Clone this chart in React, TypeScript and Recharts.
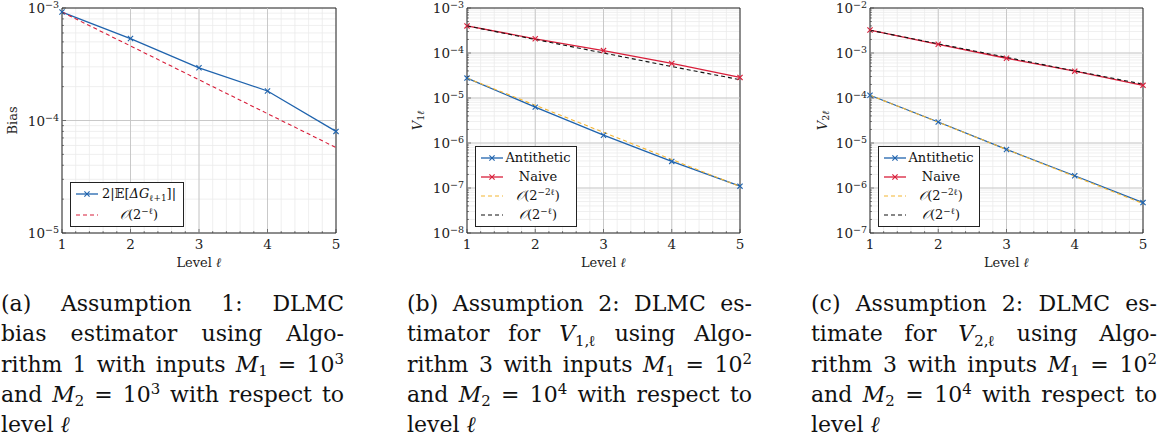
import React from 'react';
import {
  LineChart,
  Line,
  XAxis,
  YAxis,
  CartesianGrid,
  ReferenceLine,
  ReferenceArea,
  Legend,
} from 'recharts';

// levels on the x axis
const LEVELS = [1, 2, 3, 4, 5];

// (a) bias
const A_BIAS = [9.2e-4, 5.35e-4, 2.94e-4, 1.83e-4, 8.0e-5];
const A_REF = [9.2e-4, 4.6e-4, 2.3e-4, 1.15e-4, 5.75e-5];

// (b) V_1
const B_ANTI = [2.77e-5, 6.27e-6, 1.49e-6, 3.9e-7, 1.1e-7];
const B_NAIVE = [4.0e-4, 2.07e-4, 1.13e-4, 5.85e-5, 2.87e-5];
const B_REF2 = [2.77e-5, 6.9e-6, 1.73e-6, 4.3e-7, 1.08e-7];
const B_REF1 = [4.0e-4, 2.0e-4, 1.0e-4, 5.0e-5, 2.55e-5];

// (c) V_2
const C_ANTI = [1.15e-4, 2.93e-5, 7.2e-6, 1.87e-6, 4.74e-7];
const C_NAIVE = [3.23e-3, 1.56e-3, 7.64e-4, 3.95e-4, 1.91e-4];
const C_REF2 = [1.15e-4, 2.9e-5, 7.2e-6, 1.8e-6, 4.5e-7];
const C_REF1 = [3.2e-3, 1.6e-3, 8.0e-4, 4.0e-4, 2.03e-4];

const BLUE = '#1f63ad';
const RED = '#d81e3a';
const ORANGE = '#f4b531';
const BLACK = '#111111';

const FONT = "'DejaVu Serif', serif";

const isPow10 = (v: number) => Math.abs(Math.log10(v) - Math.round(Math.log10(v))) < 1e-6;

// grid positions: every 0.2 on x, 1..9 x 10^k on y
const xGrid = () => {
  const out: number[] = [];
  for (let i = 0; i <= 20; i++) out.push(1 + i * 0.2);
  return out;
};
const logGrid = (lo: number, hi: number) => {
  const out: number[] = [];
  for (let e = Math.round(Math.log10(lo)); e < Math.round(Math.log10(hi)); e++) {
    for (let m = 1; m < 10; m++) out.push(m * Math.pow(10, e));
  }
  out.push(hi);
  return out;
};

const Cross = (props: any) => {
  const { cx, cy, stroke } = props;
  if (cx == null || cy == null) return null;
  const r = 2.6;
  return (
    <g>
      <line x1={cx - r} y1={cy - r} x2={cx + r} y2={cy + r} stroke={stroke} strokeWidth={1.1} />
      <line x1={cx - r} y1={cy + r} x2={cx + r} y2={cy - r} stroke={stroke} strokeWidth={1.1} />
    </g>
  );
};

const YTickLeft = ({ x, y, payload }: any) => {
  const v = payload.value;
  const major = isPow10(v);
  const e = Math.round(Math.log10(v));
  return (
    <g>
      <line x1={x} x2={x + (major ? 4 : 2)} y1={y} y2={y} stroke="#333" strokeWidth={0.6} />
      {major && (
        <text x={x - 3} y={y + 5} textAnchor="end" fontSize={13.5} fontFamily={FONT} fill="#222">
          10
          <tspan dy={-5} fontSize={9.5}>{'\u2212' + Math.abs(e)}</tspan>
        </text>
      )}
    </g>
  );
};

const YTickRight = ({ x, y, payload }: any) => {
  const major = isPow10(payload.value);
  return <line x1={x} x2={x - (major ? 4 : 2)} y1={y} y2={y} stroke="#333" strokeWidth={0.6} />;
};

const XTickBottom = ({ x, y, payload }: any) => {
  const v = payload.value;
  const major = Math.abs(v - Math.round(v)) < 1e-6;
  return (
    <g>
      <line x1={x} x2={x} y1={y} y2={y - (major ? 4 : 2)} stroke="#333" strokeWidth={0.6} />
      {major && (
        <text x={x} y={y + 16} textAnchor="middle" fontSize={13.5} fontFamily={FONT} fill="#222">
          {Math.round(v)}
        </text>
      )}
    </g>
  );
};

const XTickTop = ({ x, y, payload }: any) => {
  const v = payload.value;
  const major = Math.abs(v - Math.round(v)) < 1e-6;
  return <line x1={x} x2={x} y1={y} y2={y + (major ? 4 : 2)} stroke="#333" strokeWidth={0.6} />;
};

type Series = { key: string; data: number[]; color: string; dashed?: boolean; marker?: boolean; label: React.ReactNode };

const Sup = ({ children }: any) => (
  <sup style={{ fontSize: '0.68em', lineHeight: 0, verticalAlign: '0.55em' }}>{children}</sup>
);
const Sub = ({ children }: any) => (
  <sub style={{ fontSize: '0.68em', lineHeight: 0, verticalAlign: '-0.3em' }}>{children}</sub>
);
const Oh = ({ p }: { p: string }) => (
  <span>
    <i>𝒪</i>(2<Sup>{p}</Sup>)
  </span>
);

type PanelProps = {
  left: number;
  width: number;
  yAxisWidth: number;
  top: number;
  right: number;
  lo: number;
  hi: number;
  series: Series[];
  yLabel: React.ReactNode;
  yLabelX: number;
  legend: { left: number; top: number; width: number; height: number };
};

const Panel = ({ left, width, yAxisWidth, top, right, lo, hi, series, yLabel, yLabelX, legend }: PanelProps) => {
  const rows = LEVELS.map((l, i) => {
    const r: any = { level: l };
    series.forEach((s) => (r[s.key] = s.data[i]));
    return r;
  });
  const yTicks = logGrid(lo, hi);
  const xTicks = xGrid();
  const majorsY = yTicks.filter((v) => isPow10(v) && v > lo && v < hi);
  return (
    <div style={{ position: 'absolute', left, top: 0 }}>
      <LineChart width={width} height={275} data={rows} margin={{ top, right, bottom: 0, left: 0 }}>
        <CartesianGrid stroke="#ebebeb" strokeWidth={0.8} />
        {majorsY.map((v) => (
          <ReferenceLine key={'hy' + v} y={v} stroke="#c4c4c4" strokeWidth={0.9} />
        ))}
        {LEVELS.slice(1, -1).map((l) => (
          <ReferenceLine key={'vx' + l} x={l} stroke="#c4c4c4" strokeWidth={0.9} />
        ))}
        <XAxis
          dataKey="level"
          type="number"
          domain={[1, 5]}
          ticks={xTicks}
          interval={0}
          tick={<XTickBottom />}
          tickLine={false}
          tickSize={0}
          tickMargin={0}
          axisLine={false}
          height={42}
          label={({ viewBox }: any) => (
            <text
              x={viewBox.x + viewBox.width / 2}
              y={viewBox.y + 34}
              textAnchor="middle"
              fontSize={13}
              fontFamily={FONT}
              fill="#222"
            >
              Level <tspan fontStyle="italic">ℓ</tspan>
            </text>
          )}
        />
        <XAxis
          xAxisId="t"
          orientation="top"
          type="number"
          dataKey="level"
          domain={[1, 5]}
          ticks={xTicks}
          interval={0}
          tick={<XTickTop />}
          tickLine={false}
          tickSize={0}
          tickMargin={0}
          axisLine={false}
          height={0}
        />
        <YAxis
          type="number"
          scale="log"
          domain={[lo, hi]}
          allowDataOverflow
          ticks={yTicks}
          interval={0}
          tick={<YTickLeft />}
          tickLine={false}
          tickSize={0}
          tickMargin={0}
          axisLine={false}
          width={yAxisWidth}
          label={({ viewBox }: any) => {
            const cx = viewBox.x + yLabelX;
            const cy = viewBox.y + viewBox.height / 2;
            return (
              <text
                x={cx}
                y={cy}
                transform={`rotate(-90 ${cx} ${cy})`}
                textAnchor="middle"
                dominantBaseline="middle"
                fontSize={13}
                fontFamily={FONT}
                fill="#222"
              >
                {yLabel}
              </text>
            );
          }}
        />
        <YAxis
          yAxisId="r"
          orientation="right"
          type="number"
          scale="log"
          domain={[lo, hi]}
          allowDataOverflow
          ticks={yTicks}
          interval={0}
          tick={<YTickRight />}
          tickLine={false}
          tickSize={0}
          tickMargin={0}
          axisLine={false}
          width={0}
        />
        {series.map((s) => (
          <Line
            key={s.key}
            dataKey={s.key}
            type="linear"
            stroke={s.color}
            strokeWidth={s.dashed ? 1.1 : 1.3}
            strokeDasharray={s.dashed ? '4 3' : undefined}
            dot={s.marker ? (p: any) => <Cross key={'d' + s.key + p.index} {...p} stroke={s.color} /> : false}
            activeDot={false}
            isAnimationActive={false}
          />
        ))}
        <ReferenceArea x1={1} x2={5} y1={lo} y2={hi} fill="none" stroke="#222" strokeWidth={1} />
        <Legend
          layout="vertical"
          align="center"
          verticalAlign="middle"
          wrapperStyle={{ left: legend.left, top: legend.top, width: legend.width, height: legend.height }}
          content={() => (
            <div
              style={{
                boxSizing: 'border-box',
                width: legend.width,
                height: legend.height,
                border: '1px solid #222',
                background: '#fff',
                padding: '1px 4px',
                display: 'flex',
                flexDirection: 'column',
                justifyContent: 'space-around',
                fontFamily: FONT,
                fontSize: 13,
                color: '#111',
              }}
            >
              {series.map((s) => (
                <div key={s.key} style={{ display: 'flex', alignItems: 'center', lineHeight: '16px' }}>
                  <svg width={24} height={10} style={{ flex: 'none' }}>
                    <line
                      x1={1}
                      x2={23}
                      y1={5}
                      y2={5}
                      stroke={s.color}
                      strokeWidth={s.dashed ? 1.2 : 1.3}
                      strokeDasharray={s.dashed ? '4 3' : undefined}
                    />
                    {s.marker && <Cross cx={12} cy={5} stroke={s.color} />}
                  </svg>
                  <span style={{ flex: 1, textAlign: 'center', whiteSpace: 'nowrap' }}>{s.label}</span>
                </div>
              ))}
            </div>
          )}
        />
      </LineChart>
    </div>
  );
};

const biasLabel = (
  <span>
    2|𝔼[<i>ΔG</i>
    <Sub>ℓ+1</Sub>
    ]|
  </span>
);

const SERIES_A: Series[] = [
  { key: 'bias', data: A_BIAS, color: BLUE, marker: true, label: biasLabel },
  { key: 'ref', data: A_REF, color: RED, dashed: true, label: <Oh p={'\u2212ℓ'} /> },
];
const SERIES_B: Series[] = [
  { key: 'anti', data: B_ANTI, color: BLUE, marker: true, label: 'Antithetic' },
  { key: 'naive', data: B_NAIVE, color: RED, marker: true, label: 'Naive' },
  { key: 'ref2', data: B_REF2, color: ORANGE, dashed: true, label: <Oh p={'\u22122ℓ'} /> },
  { key: 'ref1', data: B_REF1, color: BLACK, dashed: true, label: <Oh p={'\u2212ℓ'} /> },
];
const SERIES_C: Series[] = [
  { key: 'anti', data: C_ANTI, color: BLUE, marker: true, label: 'Antithetic' },
  { key: 'naive', data: C_NAIVE, color: RED, marker: true, label: 'Naive' },
  { key: 'ref2', data: C_REF2, color: ORANGE, dashed: true, label: <Oh p={'\u22122ℓ'} /> },
  { key: 'ref1', data: C_REF1, color: BLACK, dashed: true, label: <Oh p={'\u2212ℓ'} /> },
];

const M = ({ i }: { i: number }) => (
  <span>
    <i>M</i>
    <Sub>{i}</Sub>
  </span>
);
const V = ({ i }: { i: number }) => (
  <span style={{ whiteSpace: 'nowrap' }}>
    <i>V</i>
    <sub style={{ fontSize: '0.68em', lineHeight: 0, verticalAlign: '-0.3em', display: 'inline-block' }}>
      {i},<span style={{ display: 'inline-block', marginLeft: '-0.05em' }}>ℓ</span>
    </sub>
  </span>
);

const CAPTION_A: React.ReactNode[] = [
  <>(a) Assumption 1: DLMC</>,
  <>bias estimator using Algo-</>,
  <>
    rithm 1 with inputs <M i={1} /> = 10<Sup>3</Sup>
  </>,
  <>
    and <M i={2} /> = 10<Sup>3</Sup> with respect to
  </>,
  <>level <i>ℓ</i></>,
];
const CAPTION_B: React.ReactNode[] = [
  <>(b) Assumption 2: DLMC es-</>,
  <>
    timator for <V i={1} /> using Algo-
  </>,
  <>
    rithm 3 with inputs <M i={1} /> = 10<Sup>2</Sup>
  </>,
  <>
    and <M i={2} /> = 10<Sup>4</Sup> with respect to
  </>,
  <>level <i>ℓ</i></>,
];
const CAPTION_C: React.ReactNode[] = [
  <>(c) Assumption 2: DLMC es-</>,
  <>
    timate for <V i={2} /> using Algo-
  </>,
  <>
    rithm 3 with inputs <M i={1} /> = 10<Sup>2</Sup>
  </>,
  <>
    and <M i={2} /> = 10<Sup>4</Sup> with respect to
  </>,
  <>level <i>ℓ</i></>,
];

const Caption = ({ left, width, lines }: { left: number; width: number; lines: React.ReactNode[] }) => (
  <div
    style={{
      position: 'absolute',
      left,
      top: 289,
      width,
      fontFamily: FONT,
      fontSize: 22,
      lineHeight: '30.3px',
      color: '#111',
    }}
  >
    {lines.map((l, i) => (
      <div
        key={i}
        style={{
          textAlign: i === lines.length - 1 ? 'left' : 'justify',
          textAlignLast: i === lines.length - 1 ? 'left' : 'justify',
          textJustify: 'inter-word',
          height: 30.3,
          whiteSpace: 'nowrap',
        }}
      >
        {l}
      </div>
    ))}
  </div>
);

export default function App() {
  return (
    <div style={{ position: 'absolute', left: 0, top: 0, width: 1160, height: 447, background: '#fff', overflow: 'hidden' }}>
      <Panel
        left={0}
        width={345}
        yAxisWidth={62}
        top={8}
        right={9}
        lo={1e-5}
        hi={1e-3}
        series={SERIES_A}
        yLabel="Bias"
        yLabelX={13}
        legend={{ left: 70, top: 182, width: 114, height: 45 }}
      />
      <Panel
        left={390}
        width={360}
        yAxisWidth={77}
        top={8}
        right={10}
        lo={1e-8}
        hi={1e-3}
        series={SERIES_B}
        yLabel={
          <>
            <tspan fontStyle="italic">V</tspan>
            <tspan fontSize={9.5} dy={3}>
              1<tspan fontStyle="italic">ℓ</tspan>
            </tspan>
          </>
        }
        yLabelX={28}
        legend={{ left: 85, top: 146, width: 102, height: 81 }}
      />
      <Panel
        left={780}
        width={375}
        yAxisWidth={90}
        top={8}
        right={12}
        lo={1e-7}
        hi={1e-2}
        series={SERIES_C}
        yLabel={
          <>
            <tspan fontStyle="italic">V</tspan>
            <tspan fontSize={9.5} dy={3}>
              2<tspan fontStyle="italic">ℓ</tspan>
            </tspan>
          </>
        }
        yLabelX={43}
        legend={{ left: 98, top: 146, width: 102, height: 81 }}
      />
      <Caption left={1} width={343} lines={CAPTION_A} />
      <Caption left={407} width={345} lines={CAPTION_B} />
      <Caption left={811} width={346} lines={CAPTION_C} />
    </div>
  );
}
